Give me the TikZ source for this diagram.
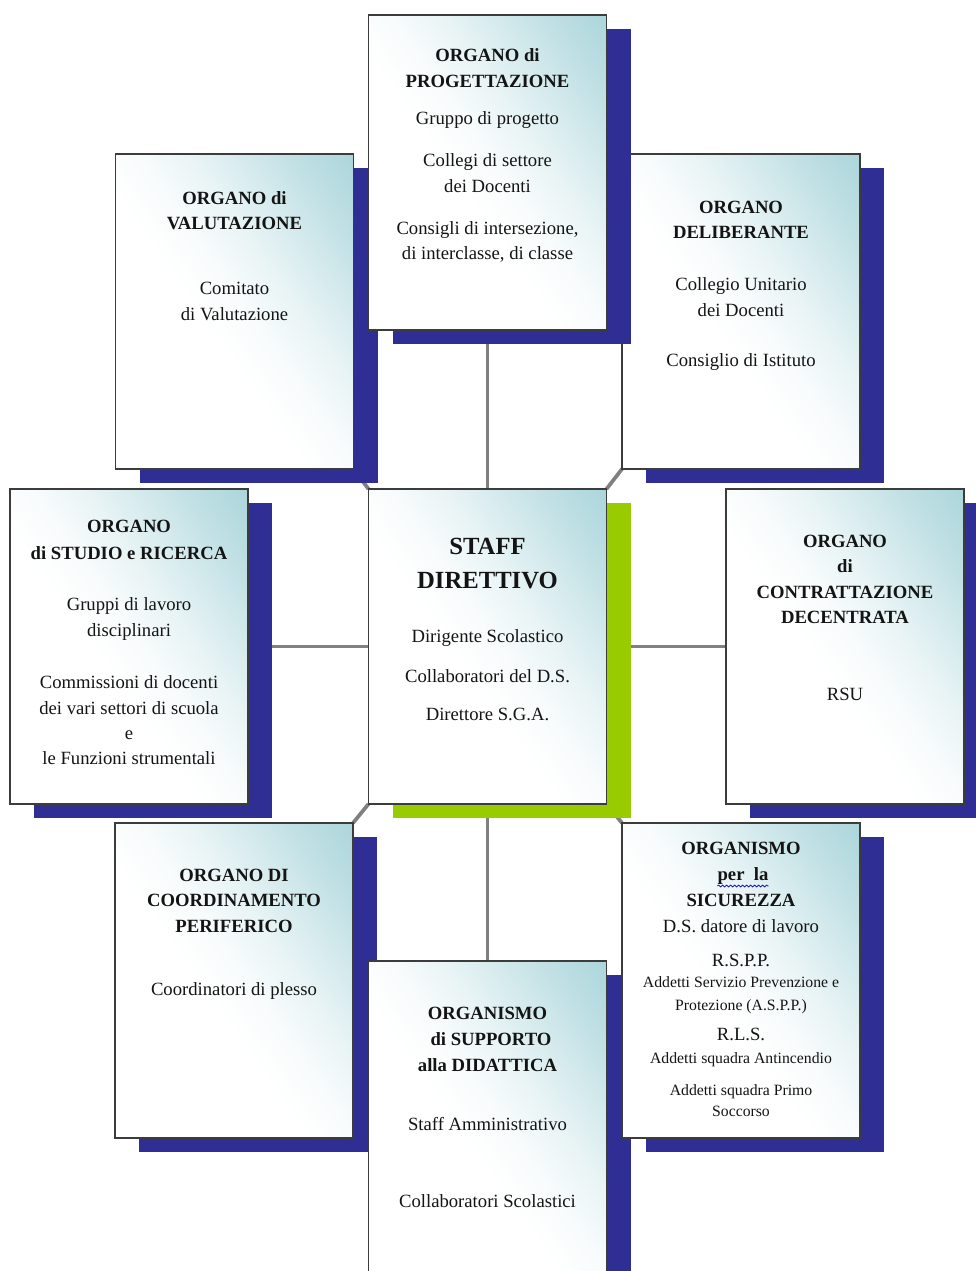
\documentclass[tikz,border=0pt]{standalone}
\usepackage{fontspec}
\setmainfont{Liberation Serif}
\usetikzlibrary{shadows,backgrounds,calc,decorations.pathmorphing}
\definecolor{tealC}{RGB}{166,211,217}
\definecolor{shblue}{RGB}{46,46,148}
\definecolor{shgreen}{RGB}{153,204,0}
\definecolor{boxline}{RGB}{60,60,60}
\definecolor{connc}{RGB}{128,128,128}
\definecolor{txt}{RGB}{20,20,20}
\pgfdeclareverticalshading{boxgrad}{100bp}{color(0bp)=(white); color(44bp)=(white); color(52bp)=(tealC!8!white); color(60bp)=(tealC!25!white); color(68bp)=(tealC!48!white); color(76bp)=(tealC!72!white); color(84bp)=(tealC!92!white); color(90bp)=(tealC); color(100bp)=(tealC)}
\begin{document}
\begin{tikzpicture}[x=0.75pt,y=-0.75pt,
  boxbase/.style={draw=boxline, line width=1pt, shading=boxgrad, shading angle=-55,
    minimum width=178.5pt, minimum height=236.25pt, inner sep=0pt, outer sep=0pt},
  boxb/.style={boxbase, general shadow={fill=shblue, shadow xshift=18pt, shadow yshift=-10.5pt}},
  boxg/.style={boxbase, general shadow={fill=shgreen, shadow xshift=18pt, shadow yshift=-10.5pt}},
  conn/.style={draw=connc, line width=2.8pt},
  tr/.style={anchor=base, inner sep=0pt, text=txt, font=\fontsize{14}{16}\selectfont},
  tb/.style={anchor=base, inner sep=0pt, text=txt, font=\fontsize{14}{16}\selectfont\bfseries},
  ts/.style={anchor=base, inner sep=0pt, text=txt, font=\fontsize{11.8}{14}\selectfont},
  tbig/.style={anchor=base, inner sep=0pt, text=txt, font=\fontsize{18.5}{21}\selectfont\bfseries}]
\useasboundingbox (0,0) rectangle (975,1271);

% ORGANO di VALUTAZIONE
\node[boxb] (val) at (234.5,311.5) {};
\node[tb] (val1) at (234.5,204) {ORGANO di};
\node[tb] (val2) at (234.5,229) {VALUTAZIONE};
\node[tr] (val3) at (234.5,294) {Comitato};
\node[tr] (val4) at (234.5,320) {di Valutazione};

% ORGANO DELIBERANTE
\node[boxb] (del) at (741,311.5) {};
\node[tb] (del1) at (741,213) {ORGANO};
\node[tb] (del2) at (741,238) {DELIBERANTE};
\node[tr] (del3) at (741,290) {Collegio Unitario};
\node[tr] (del4) at (741,316) {dei Docenti};
\node[tr] (del5) at (741,366) {Consiglio di Istituto};

% ORGANO di PROGETTAZIONE
\node[boxb] (pro) at (487.5,172.5) {};
\node[tb] (pro1) at (487.5,61) {ORGANO di};
\node[tb] (pro2) at (487.5,87) {PROGETTAZIONE};
\node[tr] (pro3) at (487.5,124) {Gruppo di progetto};
\node[tr] (pro4) at (487.5,166) {Collegi di settore};
\node[tr] (pro5) at (487.5,192) {dei Docenti};
\node[tr] (pro6) at (487.5,234) {Consigli di intersezione,};
\node[tr] (pro7) at (487.5,259) {di interclasse, di classe};

% ORGANO di STUDIO e RICERCA
\node[boxb] (stu) at (129,646.5) {};
\node[tb] (stu1) at (129,532) {ORGANO};
\node[tb] (stu2) at (129,559) {di STUDIO e RICERCA};
\node[tr] (stu3) at (129,610) {Gruppi di lavoro};
\node[tr] (stu4) at (129,636) {disciplinari};
\node[tr] (stu5) at (129,688) {Commissioni di docenti};
\node[tr] (stu6) at (129,714) {dei vari settori di scuola};
\node[tr] (stu7) at (129,739) {e};
\node[tr] (stu8) at (129,764) {le Funzioni strumentali};

% STAFF DIRETTIVO
\node[boxg] (staff) at (487.5,646.5) {};
\node[tbig] (sta1) at (487.5,554) {STAFF};
\node[tbig] (sta2) at (487.5,588) {DIRETTIVO};
\node[tr] (sta3) at (487.5,642) {Dirigente Scolastico};
\node[tr] (sta4) at (487.5,682) {Collaboratori del D.S.};
\node[tr] (sta5) at (487.5,720) {Direttore S.G.A.};

% ORGANO di CONTRATTAZIONE DECENTRATA
\node[boxb] (con) at (845,646.5) {};
\node[tb] (con1) at (845,547) {ORGANO};
\node[tb] (con2) at (845,572) {di};
\node[tb] (con3) at (845,598) {CONTRATTAZIONE};
\node[tb] (con4) at (845,623) {DECENTRATA};
\node[tr] (con5) at (845,700) {RSU};

% ORGANO DI COORDINAMENTO PERIFERICO
\node[boxb] (coo) at (234,980.5) {};
\node[tb] (coo1) at (234,881) {ORGANO DI};
\node[tb] (coo2) at (234,906) {COORDINAMENTO};
\node[tb] (coo3) at (234,932) {PERIFERICO};
\node[tr] (coo4) at (234,995) {Coordinatori di plesso};

% ORGANISMO di SUPPORTO alla DIDATTICA
\node[boxb] (sup) at (487.5,1118.5) {};
\node[tb] (sup1) at (487.5,1019) {ORGANISMO};
\node[tb] (sup2) at (491,1045) {di SUPPORTO};
\node[tb] (sup3) at (487.5,1071) {alla DIDATTICA};
\node[tr] (sup4) at (487.5,1130) {Staff Amministrativo};
\node[tr] (sup5) at (487.5,1207) {Collaboratori Scolastici};

% ORGANISMO per la SICUREZZA
\node[boxb] (sic) at (741,980.5) {};
\node[tb] (sic1) at (741,854) {ORGANISMO};
\node[tb] (sic2) at (743,880) {per\ \ la};
\draw[blue!75!black, line width=0.5pt, decorate, decoration={snake, amplitude=0.7pt, segment length=3pt}]
  ($(sic2.base west)+(0,6)$) -- ($(sic2.base east)+(0,6)$);
\node[tb] (sic3) at (741,906) {SICUREZZA};
\node[tr] (sic4) at (741,932) {D.S. datore di lavoro};
\node[tr] (sic5) at (741,966) {R.S.P.P.};
\node[ts] (sic6) at (741,987) {Addetti Servizio Prevenzione e};
\node[ts] (sic7) at (741,1010) {Protezione (A.S.P.P.)};
\node[tr] (sic8) at (741,1040) {R.L.S.};
\node[ts] (sic9) at (741,1063) {Addetti squadra Antincendio};
\node[ts] (sic10) at (741,1095) {Addetti squadra Primo};
\node[ts] (sic11) at (741,1116) {Soccorso};

% connectors behind the boxes
\begin{scope}[on background layer]
\fill[white] (0,0) rectangle (975,1271);
\draw[conn] (pro.south) -- (staff.north);
\draw[conn] (stu.east) -- (staff.west);
\draw[conn] (staff.east) -- (con.west);
\draw[conn] (staff.south) -- (sup.north);
\draw[conn] (staff.north west) -- (val.south east);
\draw[conn] (staff.north east) -- (del.south west);
\draw[conn] (staff.south west) -- (coo.north east);
\draw[conn] (staff.south east) -- (sic.north west);
\end{scope}
\end{tikzpicture}
\end{document}
